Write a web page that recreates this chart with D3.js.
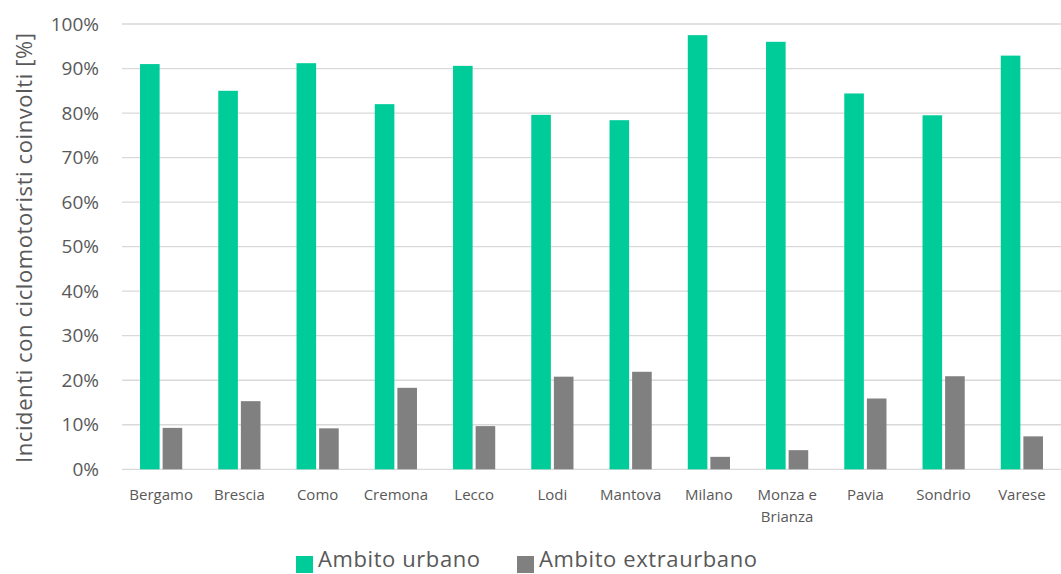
<!DOCTYPE html>
<html><head><meta charset="utf-8">
<script src="https://cdn.jsdelivr.net/npm/d3@7"></script>
<style>body{margin:0;background:#fff;} svg{display:block;}</style>
</head><body>
<svg id="c" width="1061" height="574"></svg>
<script>
const categories = ["Bergamo","Brescia","Como","Cremona","Lecco","Lodi","Mantova","Milano","Monza e Brianza","Pavia","Sondrio","Varese"];
const urbano = [91.0, 85.0, 91.2, 82.0, 90.6, 79.6, 78.4, 97.5, 96.0, 84.4, 79.5, 92.9];
const extraurbano = [9.3, 15.3, 9.2, 18.3, 9.7, 20.8, 21.9, 2.8, 4.3, 15.9, 20.9, 7.4];
const seriesNames = ["Ambito urbano","Ambito extraurbano"];
const yTicks = [0,10,20,30,40,50,60,70,80,90,100];
const colors = ["#00CC99","#808080"];

const svg = d3.select("#c");
const font = "'Open Sans', sans-serif";
const m = {l:122, r:1061, t:24, b:469.3};
const x = d3.scaleBand().domain(categories).range([m.l, m.r]).paddingInner(0).paddingOuter(0);
const y = d3.scaleLinear().domain([0,100]).range([m.b, m.t]);
const barW = 19.6, gap = 3;

// gridlines
svg.append("g").selectAll("line").data(yTicks).join("line")
  .attr("x1", m.l).attr("x2", m.r)
  .attr("y1", d=>y(d)).attr("y2", d=>y(d))
  .attr("stroke", "#D9D9D9").attr("stroke-width", 1.3);

// y tick labels
const yAxis = d3.axisLeft(y).tickValues(yTicks).tickFormat(d=>d+"%").tickSize(0).tickPadding(0);
const ga = svg.append("g").attr("transform", `translate(99,0)`).call(yAxis);
ga.select(".domain").remove();
ga.selectAll("text").attr("font-family", font).attr("font-size", 19).attr("fill", "#595959");

// bars
const data = [urbano, extraurbano];
data.forEach((vals, si) => {
  svg.append("g").selectAll("rect").data(categories).join("rect")
    .attr("x", (c)=> x(c) + x.bandwidth()/2 + (si===0 ? -(barW + gap/2) : gap/2))
    .attr("width", barW)
    .attr("y", (c,i)=> y(vals[i]))
    .attr("height", (c,i)=> y(0) - y(vals[i]))
    .attr("fill", colors[si]);
});

// x labels
const xl = svg.append("g");
categories.forEach(c => {
  const t = xl.append("text").attr("x", x(c)+x.bandwidth()/2).attr("y", 500)
    .attr("text-anchor","middle").attr("font-family", font).attr("font-size", 15).attr("fill","#595959");
  const parts = c === "Monza e Brianza" ? ["Monza e","Brianza"] : [c];
  parts.forEach((p,i)=> t.append("tspan").attr("x", x(c)+x.bandwidth()/2).attr("dy", i===0?0:22).text(p));
});

// y title
svg.append("text").attr("transform", `translate(32,248) rotate(-90)`)
  .attr("text-anchor","middle").attr("font-family", font).attr("font-size", 22).attr("fill","#595959")
  .attr("textLength", 430).attr("lengthAdjust", "spacing")
  .text("Incidenti con ciclomotoristi coinvolti [%]");

// legend
const lg = svg.append("g");
const legX = [296, 517];
const legW = [162, 218];
seriesNames.forEach((n,i)=>{
  lg.append("rect").attr("x", legX[i]).attr("y", 556).attr("width", 17).attr("height", 17).attr("fill", colors[i]);
  lg.append("text").attr("x", legX[i]+22).attr("y", 567).attr("font-family", font).attr("font-size", 22).attr("fill","#595959")
    .attr("textLength", legW[i]).attr("lengthAdjust","spacing").text(n);
});
</script>
</body></html>
